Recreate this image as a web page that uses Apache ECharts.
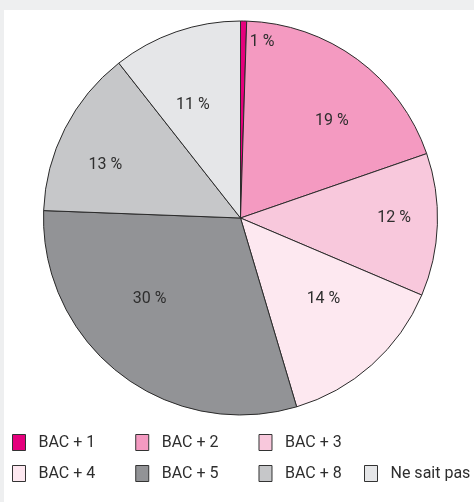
<!DOCTYPE html>
<html>
<head>
<meta charset="utf-8">
<script src="https://cdn.jsdelivr.net/npm/echarts@6/dist/echarts.min.js"></script>
<style>
html,body{margin:0;padding:0;background:#eeeff0;}
#c{width:474px;height:502px;}
</style>
</head>
<body>
<div id="c"></div>
<script>
// ---- data ----
var categories = ['BAC + 1', 'BAC + 2', 'BAC + 3', 'BAC + 4', 'BAC + 5', 'BAC + 8', 'Ne sait pas'];
// printed percentages
var shares = [1, 19, 12, 14, 30, 13, 11];
// slice sizes as drawn
var values = [0.5, 19.2, 11.7, 14, 30.2, 13.8, 10.6];
var colors = ['#e5007d', '#f49ac1', '#f8c8dc', '#fde8f0', '#929396', '#c6c7c9', '#e5e6e8'];

// label placement tweaks (radial fraction, angle nudge in degrees)
var labelRadius = [0.91, 0.685, 0.78, 0.58, 0.61, 0.74, 0.63];
var labelNudge = [6, 6.3, -2.7, -4.8, 11.4, -5, -3.5];

var FONT = '"DejaVu Sans Condensed", Roboto, sans-serif';
var FONT = 'Roboto, sans-serif';
var CX = 240.5, CY = 218, R = 197;

var chart = echarts.init(document.getElementById('c'));
var total = values.reduce(function (a, b) { return a + b; }, 0);
var cum = [];
var acc = 0;
values.forEach(function (v) { cum.push((acc + v / 2) / total * 360); acc += v; });

var data = categories.map(function (n, i) {
  return { name: n, value: values[i], share: shares[i], itemStyle: { color: colors[i] } };
});

function legendBlock(names, left, top) {
  return {
    data: names,
    left: left, top: top,
    orient: 'horizontal',
    icon: 'rect',
    itemWidth: 13, itemHeight: 16,
    itemGap: 40,
    padding: 0,
    selectedMode: false,
    itemStyle: { borderColor: '#333', borderWidth: 1 },
    textStyle: { fontFamily: FONT, fontSize: 16, color: '#2e2e2e', padding: [0, 0, 0, 8] }
  };
}

chart.setOption({
  backgroundColor: '#eeeff0',
  animation: false,
  graphic: [{
    type: 'rect', z: -10, silent: true,
    shape: { x: 4, y: 10, width: 470, height: 492 },
    style: { fill: '#ffffff' }
  }],
  legend: [
    legendBlock(categories.slice(0, 3), 12, 434),
    legendBlock(categories.slice(3, 6), 12, 465),
    legendBlock(categories.slice(6), 364, 465)
  ],
  series: [{
    type: 'pie',
    center: [CX, CY],
    radius: [0, R],
    startAngle: 90,
    clockwise: true,
    data: data,
    itemStyle: { borderColor: '#2b2b2b', borderWidth: 1 },
    label: {
      show: true,
      position: 'inside',
      fontFamily: FONT,
      fontSize: 16,
      color: '#2e2e2e',
      formatter: function (p) { return shares[p.dataIndex] + ' %'; }
    },
    labelLine: { show: false },
    labelLayout: function (p) {
      var i = p.dataIndex;
      var a = (cum[i] + labelNudge[i]) * Math.PI / 180;
      var r = labelRadius[i] * R;
      return {
        x: CX + r * Math.sin(a) - p.labelRect.width / 2,
        y: CY - r * Math.cos(a) - p.labelRect.height / 2 + 2,
        align: 'left', verticalAlign: 'top'
      };
    }
  }]
});
</script>
</body>
</html>
